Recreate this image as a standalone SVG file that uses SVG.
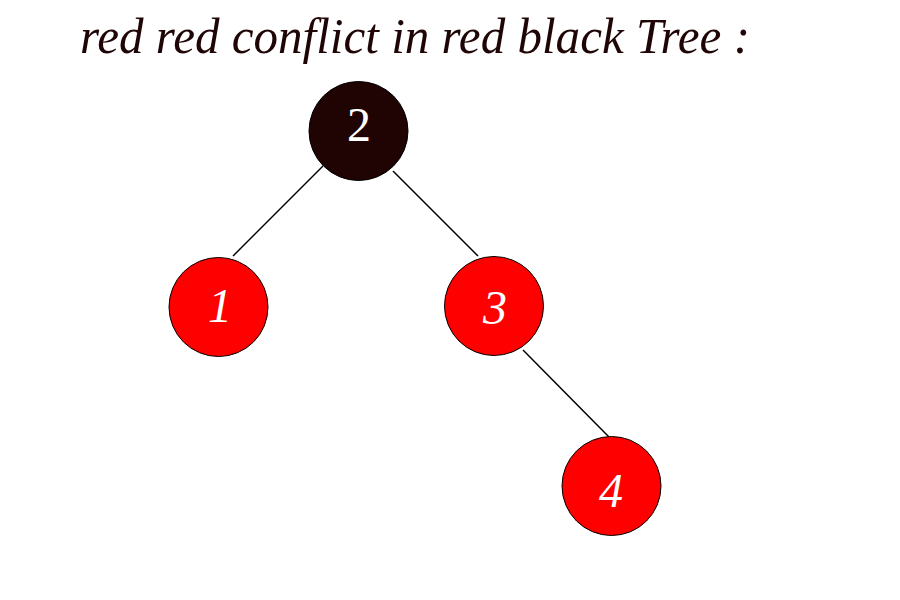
<svg xmlns="http://www.w3.org/2000/svg" width="900" height="600" viewBox="0 0 900 600">
<style>
.title{font-family:"Liberation Serif","Times New Roman",serif;font-style:italic;font-size:51px;fill:#1f0505}
.red{fill:#ff0000;stroke:#000;stroke-width:1}
.blk{fill:#200404;stroke:#000;stroke-width:1}
.lbl{font-family:"Liberation Serif","Times New Roman",serif;font-style:italic;font-size:48px;fill:#fff;text-anchor:middle}
.up{font-style:normal}
.edge{stroke:#000;stroke-width:1.5;fill:none}
</style>
<rect width="900" height="600" fill="#fff"/>
<text class="title" x="80" y="53" textLength="670" lengthAdjust="spacingAndGlyphs">red red conflict in red black Tree :</text>
<g id="edges">
<line class="edge" x1="323" y1="166" x2="233" y2="256"/>
<line class="edge" x1="393" y1="171" x2="478" y2="256"/>
<line class="edge" x1="523" y1="350" x2="609" y2="437"/>
</g>
<g id="n2"><circle class="blk" cx="358.5" cy="131" r="49.5"/><text class="lbl up" x="359" y="141">2</text></g>
<g id="n1"><circle class="red" cx="218.5" cy="307" r="49.5"/><text class="lbl" x="220" y="322">1</text></g>
<g id="n3"><circle class="red" cx="494" cy="306" r="49.5"/><text class="lbl" x="495" y="324">3</text></g>
<g id="n4"><circle class="red" cx="611.5" cy="486" r="49.5"/><text class="lbl" x="611" y="507">4</text></g>
</svg>
